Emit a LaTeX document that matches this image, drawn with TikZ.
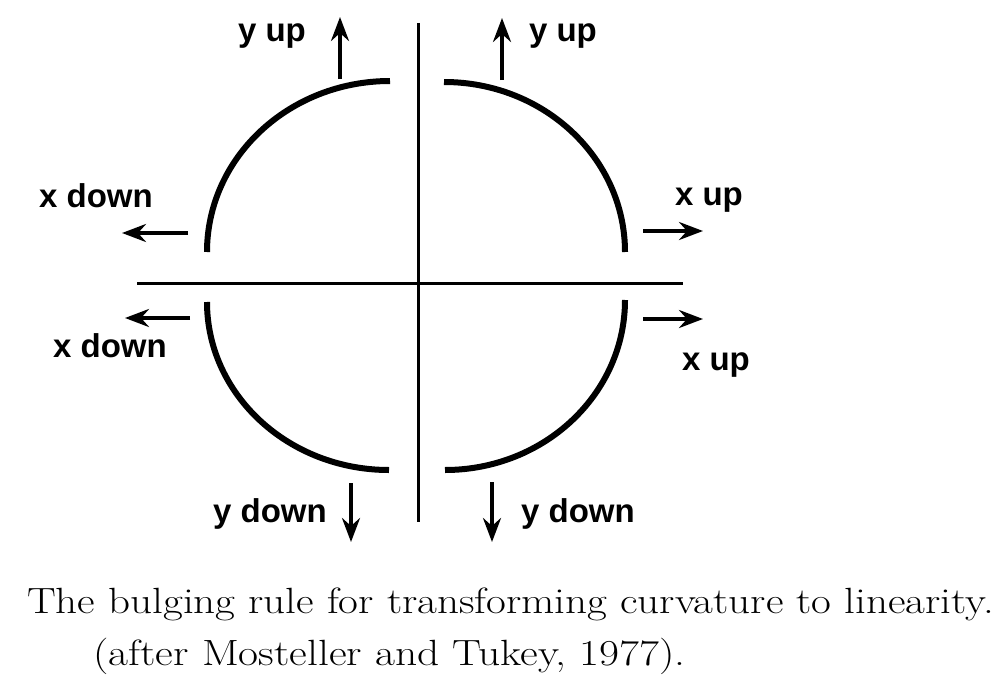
\documentclass[tikz,border=0pt]{standalone}
\usepackage{fontspec}
\newfontfamily\lblfont{Liberation Sans}
\usetikzlibrary{arrows.meta}
\tikzset{
  lbl/.style={font=\lblfont\bfseries\fontsize{33}{36}\selectfont, inner sep=0pt, anchor=base},
  axis/.style={line width=3pt},
  bulge/.style={line width=6pt},
  dirarrow/.style={line width=3.8pt, -{Stealth[length=24pt,width=18pt,inset=8pt]}},
  caption/.style={font=\fontsize{36.5}{40}\selectfont, inner sep=0pt, anchor=base west}
}
\begin{document}
\begin{tikzpicture}[x=1pt,y=-1pt]
\useasboundingbox (0,0) rectangle (1006,685);
% axes
\coordinate (vt) at (418,23);
\coordinate (vb) at (418,522);
\coordinate (hl) at (137,283);
\coordinate (hr) at (683,283);
\draw[axis] (vt) -- (vb);
\draw[axis] (hl) -- (hr);
% bulging arcs (quarter ellipses)
\draw[bulge] (207,252) arc[start angle=180, end angle=90, x radius=183, y radius=-171];
\draw[bulge] (444,82) arc[start angle=90, end angle=0, x radius=181, y radius=-170];
\draw[bulge] (207,302) arc[start angle=180, end angle=270, x radius=182, y radius=-168];
\draw[bulge] (445,470) arc[start angle=270, end angle=360, x radius=180, y radius=-170];
% arrows
\coordinate (a1s) at (340,79); \coordinate (a1e) at (340,17);
\coordinate (a2s) at (502,80); \coordinate (a2e) at (502,18);
\coordinate (a3s) at (188,233); \coordinate (a3e) at (122,233);
\coordinate (a4s) at (190,318); \coordinate (a4e) at (125,318);
\coordinate (a5s) at (643,231); \coordinate (a5e) at (703,231);
\coordinate (a6s) at (643,319); \coordinate (a6e) at (703,319);
\coordinate (a7s) at (351,483); \coordinate (a7e) at (351,542);
\coordinate (a8s) at (492,482); \coordinate (a8e) at (492,542);
\foreach \i in {1,...,8} \draw[dirarrow] (a\i s) -- (a\i e);
% labels
\node[lbl] (yupL) at (272,42) {y up};
\node[lbl] (yupR) at (563,42) {y up};
\node[lbl] (xdnU) at (96,207) {x down};
\node[lbl] (xdnL) at (110,357) {x down};
\node[lbl] (xupU) at (709,205) {x up};
\node[lbl] (xupL) at (716,370) {x up};
\node[lbl] (ydnL) at (270,522) {y down};
\node[lbl] (ydnR) at (578,522) {y down};
% caption
\node[caption] (cap1) at (27,613) {\scalebox{1.18}[1]{The bulging rule for transforming curvature to linearity.}};
\node[caption] (cap2) at (93,665) {\scalebox{1.19}[1]{(after Mosteller and Tukey, 1977).}};
\end{tikzpicture}
\end{document}
